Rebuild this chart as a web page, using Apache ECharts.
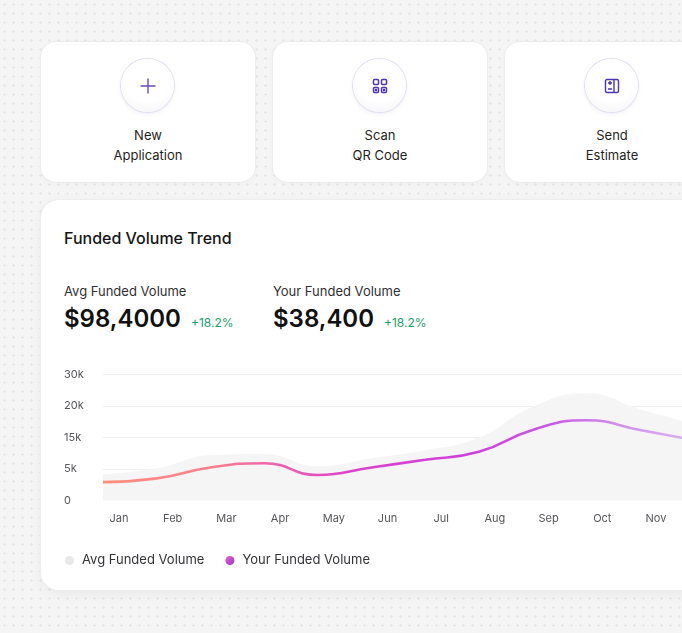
<!DOCTYPE html>
<html>
<head>
<meta charset="utf-8">
<script src="https://cdn.jsdelivr.net/npm/echarts@6/dist/echarts.min.js"></script>
<style>
  html, body { margin:0; padding:0; }
  body {
    width:682px; height:633px; overflow:hidden; position:relative;
    font-family: Inter, "Noto Sans", sans-serif; color:#1c1c1e;
    background-color:#f5f5f6;
    background-image: radial-gradient(circle, #e7e7ea 1.1px, transparent 1.4px);
    background-size: 9px 9px;
    background-position: 0px 0px;
  }
  .tile {
    position:absolute; top:42px; width:214px; height:140px;
    background:#fff; border-radius:15px;
    box-shadow: 0 0 0 1px #ececef, 0 2px 6px rgba(0,0,0,0.03);
  }
  .ico {
    position:absolute; left:80px; top:17px; width:53px; height:53px; border-radius:50%;
    background: radial-gradient(circle at 50% 35%, #ffffff 55%, #f1eff7 100%);
    box-shadow: 0 0 0 1px #e2def0, 0 2px 4px rgba(90,70,160,0.10);
    display:flex; align-items:center; justify-content:center;
  }
  .lbl {
    position:absolute; left:0; width:100%; top:83px; text-align:center;
    font-size:13px; line-height:20px; color:#1f1f22;
  }
  .card {
    position:absolute; left:41px; top:200px; width:720px; height:390px;
    background:#fff; border-radius:18px;
    box-shadow: 0 0 0 1px #ededf0, 0 4px 14px rgba(0,0,0,0.05);
  }
  .title { position:absolute; left:23px; top:28px; font-size:16px; font-weight:500; color:#151517; }
  .stat { position:absolute; top:82px; }
  .stat .k { font-size:13px; color:#2f2f33; line-height:18px; }
  .stat .v { margin-top:4px; font-size:24px; font-weight:600; color:#111; line-height:30px; white-space:nowrap; }
  .stat .d { font-size:12px; font-weight:400; color:#17a06a; margin-left:10px; }
  #chart { position:absolute; left:41px; top:350px; width:720px; height:240px; }
</style>
</head>
<body>
  <div class="tile" style="left:41px">
    <div class="ico">
      <svg width="18" height="18" viewBox="0 0 18 18"><path d="M9 2v14M2 9h14" stroke="#6a4cc0" stroke-width="1.4" fill="none" stroke-linecap="round"/></svg>
    </div>
    <div class="lbl">New<br>Application</div>
  </div>
  <div class="tile" style="left:273px">
    <div class="ico">
      <svg width="16" height="16" viewBox="0 0 16 16" fill="none" stroke="#4e33b5" stroke-width="1.5">
        <rect x="1.5" y="1.5" width="5" height="5" rx="1"/><rect x="9.5" y="1.5" width="5" height="5" rx="1"/>
        <rect x="1.5" y="9.5" width="5" height="5" rx="1"/><rect x="9.5" y="9.5" width="5" height="5" rx="1"/>
        <rect x="3.6" y="11.6" width="0.8" height="0.8" fill="#4e33b5"/><rect x="11.6" y="11.6" width="0.8" height="0.8" fill="#4e33b5"/>
      </svg>
    </div>
    <div class="lbl">Scan<br>QR Code</div>
  </div>
  <div class="tile" style="left:505px">
    <div class="ico">
      <svg width="16" height="16" viewBox="0 0 16 16" fill="none" stroke="#4e33b5" stroke-width="1.4">
        <rect x="1.5" y="1.5" width="13" height="13" rx="1.5"/>
        <path d="M10 1.5v13M4 5h4M6 3v4M4 11h4"/>
      </svg>
    </div>
    <div class="lbl">Send<br>Estimate</div>
  </div>

  <div class="card">
    <div class="title">Funded Volume Trend</div>
    <div class="stat" style="left:23px">
      <div class="k">Avg Funded Volume</div>
      <div class="v">$98,4000<span class="d">+18.2%</span></div>
    </div>
    <div class="stat" style="left:232px">
      <div class="k">Your Funded Volume</div>
      <div class="v">$38,400<span class="d">+18.2%</span></div>
    </div>
  </div>
  <div id="chart"></div>

<script>
const months = ['Jan','Feb','Mar','Apr','May','Jun','Jul','Aug','Sep','Oct','Nov','Dec'];
const avgVolume  = [6300, 7700, 10800, 11100, 8200, 10100, 12000, 15000, 22300, 25500, 21700, 18200];
const yourVolume = [4400, 5300, 7900, 8900, 6100, 7900, 9700, 11600, 16800, 19100, 16800, 14400];
const yTickLabels = ['0', '5k', '15k', '20k', '30k'];
const yStep = 7500;

const chart = echarts.init(document.getElementById('chart'), null, { renderer: 'canvas' });
const lineGrad = new echarts.graphic.LinearGradient(0, 0, 1, 0, [
  { offset: 0.00, color: '#ff8f7c' },
  { offset: 0.18, color: '#fb7f8c' },
  { offset: 0.30, color: '#ec5fae' },
  { offset: 0.42, color: '#db43cb' },
  { offset: 0.62, color: '#d03fdc' },
  { offset: 0.76, color: '#c95ae3' },
  { offset: 0.86, color: '#d08de9' },
  { offset: 1.00, color: '#dbb6f4' }
]);
const dotGrad = new echarts.graphic.LinearGradient(0, 0, 1, 1, [
  { offset: 0, color: '#f060c0' },
  { offset: 1, color: '#9238dc' }
]);

chart.setOption({
  animation: false,
  textStyle: { fontFamily: 'Inter' },
  grid: { left: 62, top: 24.3, width: 590.7, height: 126.4 },
  legend: {
    left: 19, top: 199,
    icon: 'circle', itemWidth: 15, itemHeight: 9, itemGap: 21,
    textStyle: { fontSize: 13, color: '#333338', fontFamily: 'Inter' },
    data: ['Avg Funded Volume', 'Your Funded Volume']
  },
  xAxis: {
    type: 'category', data: months, boundaryGap: false,
    axisLine: { show: false }, axisTick: { show: false },
    axisLabel: { interval: 0, margin: 12, fontSize: 11, color: '#55555a', padding: [0, 0, 0, 32] },
    splitLine: { show: false }
  },
  yAxis: {
    type: 'value', min: 0, max: 30000, interval: yStep,
    axisLine: { show: false }, axisTick: { show: false },
    axisLabel: {
      align: 'left', margin: 39, fontSize: 11, color: '#55555a',
      formatter: v => yTickLabels[Math.round(v / yStep)]
    },
    splitLine: { show: true, showMinLine: false, lineStyle: { color: '#efeff1', width: 1 } }
  },
  series: [
    {
      name: 'Avg Funded Volume', type: 'line', data: avgVolume, smooth: true,
      symbol: 'none', z: 1,
      itemStyle: { color: '#e9e9ec' },
      lineStyle: { width: 0, color: '#f4f4f5' },
      areaStyle: { color: '#f5f5f6', opacity: 1 }
    },
    {
      name: 'Your Funded Volume', type: 'line', data: yourVolume, smooth: true,
      symbol: 'none', z: 3,
      itemStyle: { color: dotGrad },
      lineStyle: { width: 2.6, color: lineGrad }
    }
  ]
});
</script>
</body>
</html>
